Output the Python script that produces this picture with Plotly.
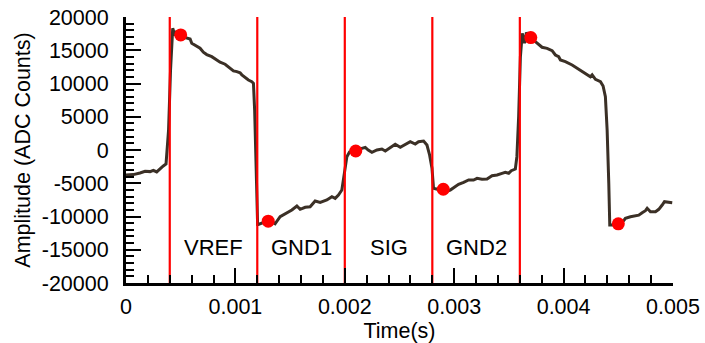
import plotly.graph_objects as go

# Waveform (time in seconds, amplitude in ADC counts)
time_ms = [0.0, 0.067, 0.128, 0.174, 0.220, 0.250, 0.281, 0.311, 0.341, 0.366,
           0.389, 0.407, 0.427, 0.448, 0.462, 0.476, 0.494, 0.522, 0.555, 0.586,
           0.601, 0.640, 0.677, 0.707, 0.738, 0.784, 0.830, 0.860, 0.906, 0.951,
           0.982, 1.013, 1.043, 1.059, 1.089, 1.119, 1.150, 1.165, 1.176, 1.185,
           1.194, 1.203, 1.210, 1.242, 1.287, 1.333, 1.363, 1.409, 1.470, 1.516,
           1.562, 1.592, 1.638, 1.683, 1.729, 1.775, 1.836, 1.882, 1.912, 1.942,
           1.973, 2.003, 2.019, 2.043, 2.080, 2.123, 2.156, 2.187, 2.214, 2.248,
           2.294, 2.339, 2.370, 2.415, 2.461, 2.507, 2.553, 2.598, 2.644, 2.674,
           2.720, 2.751, 2.775, 2.797, 2.811, 2.845, 2.873, 2.918, 2.964, 3.010,
           3.040, 3.086, 3.132, 3.177, 3.209, 3.254, 3.300, 3.346, 3.392, 3.437,
           3.467, 3.498, 3.522, 3.559, 3.573, 3.589, 3.605, 3.622, 3.643, 3.660,
           3.697, 3.742, 3.772, 3.803, 3.849, 3.895, 3.925, 3.955, 3.971, 4.016,
           4.078, 4.123, 4.169, 4.215, 4.245, 4.261, 4.291, 4.337, 4.361, 4.382,
           4.398, 4.413, 4.422, 4.444, 4.490, 4.535, 4.565, 4.611, 4.657, 4.687,
           4.718, 4.748, 4.764, 4.794, 4.840, 4.870, 4.901, 4.922, 4.993]
amplitude = [-3760, -3700, -3450, -3200, -3250, -3050, -3300, -2800, -2400, -2100,
             3000, 12000, 18300, 17200, 17900, 17100, 17300, 17000, 16800, 16700,
             16050, 15700, 15300, 14700, 14350, 14030, 13540, 13200, 12900, 12290,
             11900, 11780, 11600, 11300, 10900, 10530, 10280, 10030, 6000, 0,
             -6000, -11200, -11200, -11030, -10700, -10780, -11100, -10030, -9520, -9020,
             -8420, -8920, -8620, -8530, -7670, -7870, -7520, -7020, -7270, -6770,
             -6020, -3010, -1000, -300, -100, 100, 250, 400, 0, -350,
             0, 150, -150, 400, 860, 400, 860, 1250, 900, 1250,
             1350, 750, -750, -2750, -5760, -5900, -5900, -6270, -6020, -5520,
             -5160, -4860, -4510, -4510, -4260, -4410, -4360, -3870, -3760, -3510,
             -3350, -3500, -3110, -2860, -1000, 5000, 14000, 17550, 16050, 17650,
             16800, 16290, 15940, 15450, 15290, 14940, 14290, 14030, 13540, 13280,
             12790, 12290, 11780, 11280, 11020, 11300, 10630, 10280, 9630, 8020,
             3000, -5000, -11280, -11280, -11000, -10930, -10270, -10030, -9930, -9800,
             -9430, -9130, -8770, -9280, -9280, -8920, -8270, -7770, -7920]

# Sample points (red dots)
sample_t = [0.0005, 0.0013, 0.0021, 0.0029, 0.0037, 0.0045]
sample_v = [17300, -10700, -150, -5900, 16900, -11100]

# Phase boundaries and labels
boundaries = [0.0004, 0.0012, 0.0020, 0.0028, 0.0036]
phase_labels = ["VREF", "GND1", "SIG", "GND2"]
label_y = -14700

x_tickvals = [0, 0.001, 0.002, 0.003, 0.004, 0.005]
x_ticktext = ["0", "0.001", "0.002", "0.003", "0.004", "0.005"]
y_tickvals = [20000, 15000, 10000, 5000, 0, -5000, -10000, -15000, -20000]
y_ticktext = ["20000", "15000", "10000", "5000", "0", "-5000", "-10000", "-15000", "-20000"]

time_s = [t / 1000.0 for t in time_ms]

FONT = "Liberation Sans, Arial, Helvetica, sans-serif"

fig = go.Figure()
fig.add_trace(go.Scatter(x=time_s, y=amplitude, mode="lines",
                         line=dict(color="#3b3026", width=3),
                         showlegend=False, hoverinfo="skip"))
for b in boundaries:
    fig.add_trace(go.Scatter(x=[b, b], y=[-20000, 20000], mode="lines",
                             line=dict(color="#ff0000", width=2.2),
                             showlegend=False, hoverinfo="skip"))
fig.add_trace(go.Scatter(x=sample_t, y=sample_v, mode="markers",
                         marker=dict(color="#ff0000", size=13),
                         showlegend=False))

for i, lab in enumerate(phase_labels):
    fig.add_annotation(x=(boundaries[i] + boundaries[i + 1]) / 2, y=label_y,
                       text=lab, showarrow=False,
                       font=dict(family=FONT, size=22, color="black"))

fig.update_layout(
    width=705, height=343,
    margin=dict(l=126, r=32, t=17, b=60),
    paper_bgcolor="white", plot_bgcolor="white",
    font=dict(family=FONT, size=21.5, color="black"),
    xaxis=dict(range=[0, 0.005], showgrid=False, zeroline=False,
               automargin=False,
               showline=True, linecolor="black", linewidth=3,
               ticks="inside", ticklen=15, tickwidth=2, tickcolor="black",
               tickvals=x_tickvals, ticktext=x_ticktext,
               ticklabelstandoff=2,
               minor=dict(ticks="inside", ticklen=8, tickwidth=2,
                          tickcolor="black", dtick=0.0002, showgrid=False),
               title=dict(text="Time(s)", standoff=7,
                          font=dict(family=FONT, size=21.5))),
    yaxis=dict(range=[-20000, 20000], showgrid=False, zeroline=False,
               automargin=False,
               showline=True, linecolor="black", linewidth=3,
               ticks="inside", ticklen=15, tickwidth=2, tickcolor="black",
               tickvals=y_tickvals, ticktext=y_ticktext,
               ticklabelstandoff=10,
               minor=dict(ticks="inside", ticklen=8, tickwidth=2,
                          tickcolor="black", dtick=1000, showgrid=False),
               title=dict(text="Amplitude (ADC Counts)", standoff=6,
                          font=dict(family=FONT, size=21.5))),
)

fig.write_html("out.html")
